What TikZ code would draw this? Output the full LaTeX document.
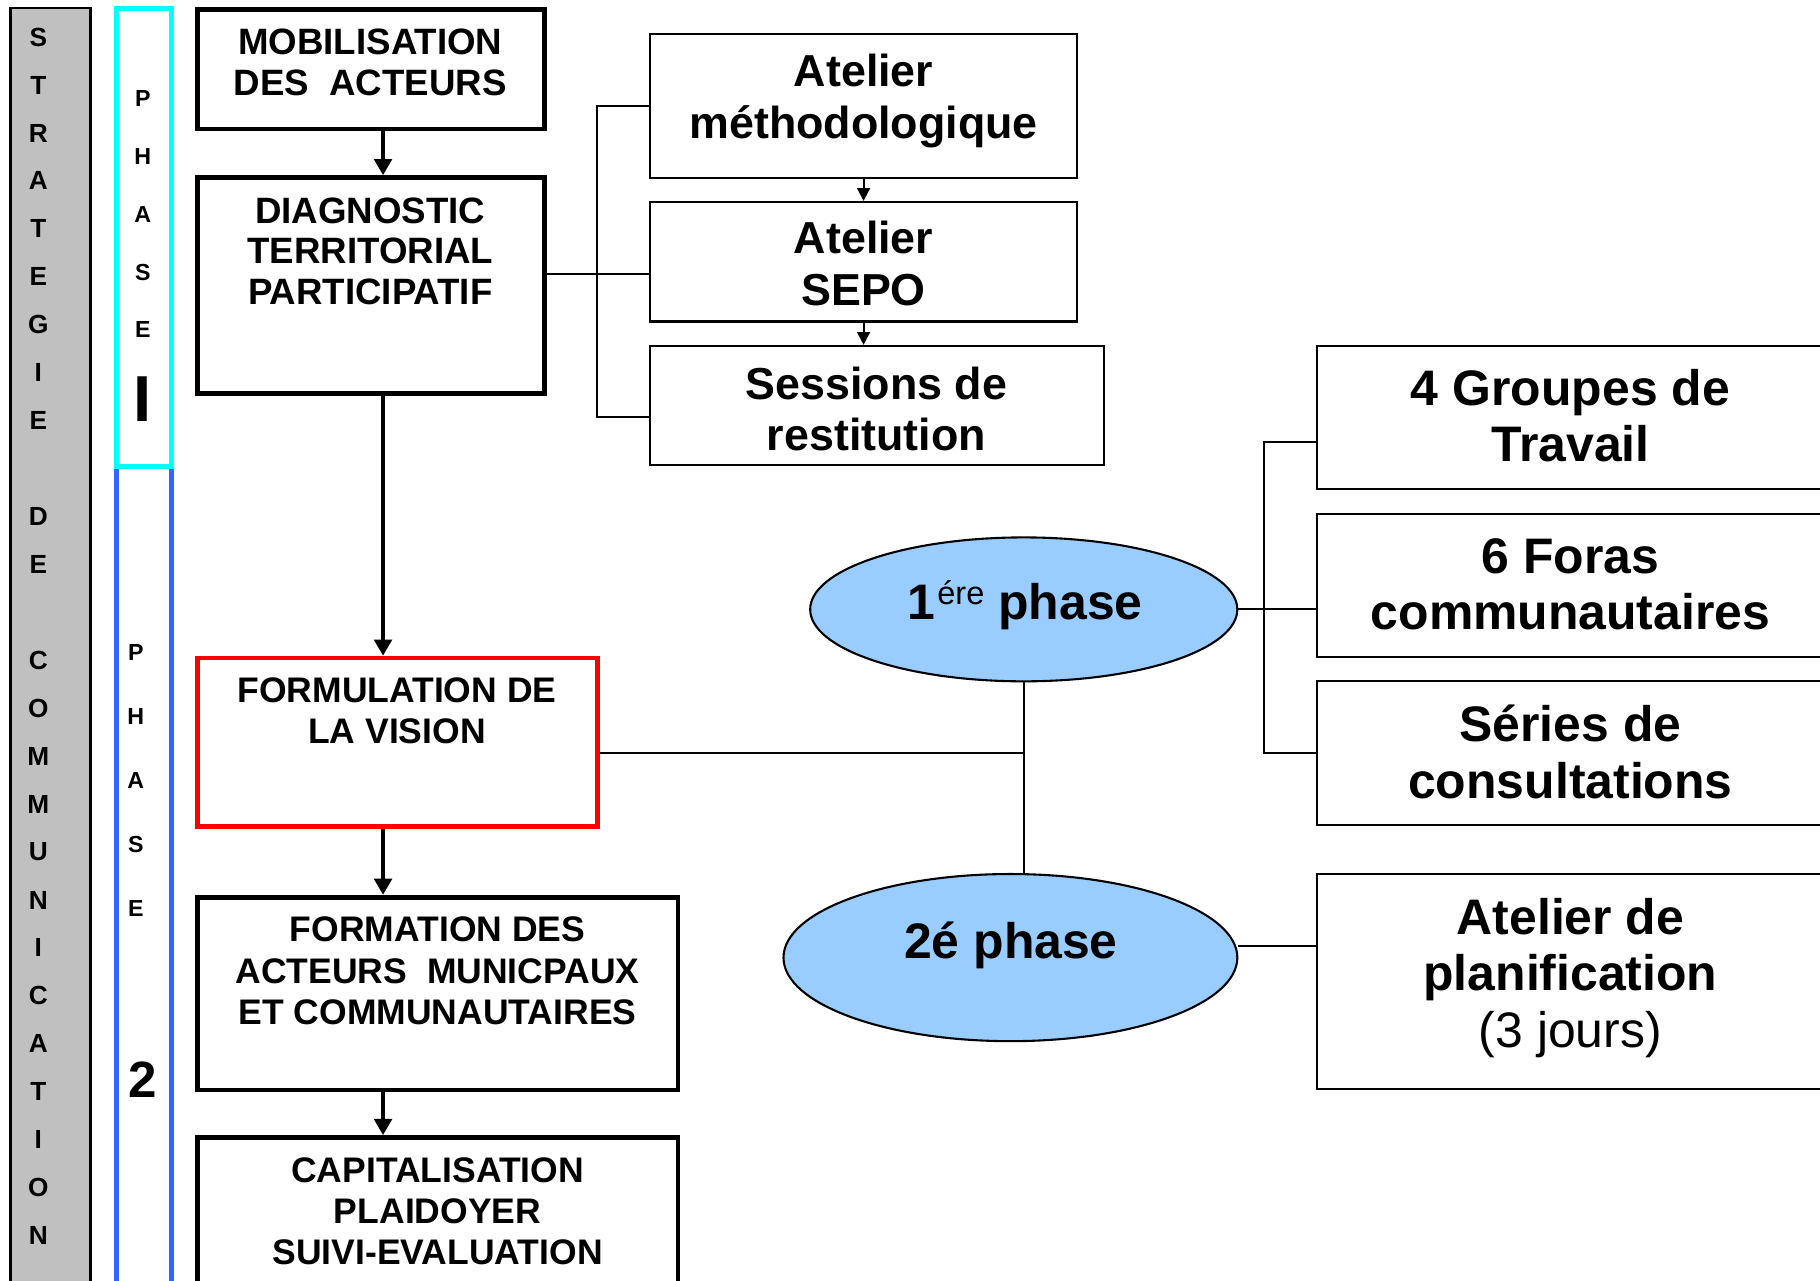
\documentclass[tikz,border=0pt]{standalone}
\usepackage{fontspec}
\setmainfont{Liberation Sans}
\usetikzlibrary{arrows.meta,shapes.geometric,calc}
\definecolor{barGray}{HTML}{C0C0C0}
\definecolor{phCyan}{HTML}{00FFFF}
\definecolor{phBlue}{HTML}{3366FF}
\definecolor{ellBlue}{HTML}{99CCFF}
\begin{document}
\begin{tikzpicture}[x=0.5pt,y=-0.5pt,
  thickbox/.style={draw, line width=2pt, inner sep=0pt},
  thinbox/.style={draw, line width=0.9pt, inner sep=0pt},
  ell/.style={ellipse, draw, line width=0.9pt, fill=ellBlue, inner sep=0pt},
  topcaps/.style={font=\bfseries\fontsize{15.8}{17.6}\selectfont, align=center, inner sep=0pt},
  lowcaps/.style={font=\bfseries\fontsize{15.3}{17.75}\selectfont, align=center, inner sep=0pt},
  midtext/.style={font=\bfseries\fontsize{19.3}{22}\selectfont, align=center, inner sep=0pt},
  bigtext/.style={font=\bfseries\fontsize{21.5}{24.4}\selectfont, align=center, inner sep=0pt},
  grayletter/.style={font=\bfseries\fontsize{11.3}{11.3}\selectfont, inner sep=0pt},
  phaseletter/.style={font=\bfseries\fontsize{10}{10}\selectfont, inner sep=0pt},
  mainarrow/.style={line width=2pt, -{Triangle[length=7pt,width=7.5pt]}},
  smallarrow/.style={line width=0.9pt, -{Triangle[length=5.5pt,width=5.5pt]}},
  conn/.style={line width=0.85pt}
]
\useasboundingbox (0,0) rectangle (1568,1103);
\fill[white] (0,0) rectangle (1568,1103);
\clip (0,0) rectangle (1568,1103);

% side bars
\node[draw=black, line width=1pt, fill=barGray, minimum width=34.5pt, minimum height=551.5pt, inner sep=0pt] (strat) at (43.5,558.5) {};
\node[draw=phBlue, line width=2.1pt, minimum width=24pt, minimum height=354pt, inner sep=0pt] (ph2) at (124,756) {};
\node[draw=phCyan, line width=2.1pt, minimum width=24pt, minimum height=197.5pt, inner sep=0pt] (ph1) at (124,204.5) {};

\foreach \k/\ch in {0/S,1/T,2/R,3/A,4/T,5/E,6/G,7/I,8/E,10/D,11/E,13/C,14/O,15/M,16/M,17/U,18/N,19/I,20/C,21/A,22/T,23/I,24/O,25/N}
  \node[grayletter] (sl\k) at (33,{32+41.3*\k}) {\ch};
\foreach \k/\ch in {0/P,1/H,2/A,3/S,4/E}
  \node[phaseletter] (pa\k) at (123,{85+49.8*\k}) {\ch};
\node[font=\bfseries\fontsize{28}{28}\selectfont, inner sep=0pt] (pnum1) at (123,344) {I};
\foreach \k/\ch in {0/P,1/H,2/A,3/S,4/E}
  \node[phaseletter] (pb\k) at (117,{562+55.2*\k}) {\ch};
\node[font=\bfseries\fontsize{22}{22}\selectfont, inner sep=0pt] (pnum2) at (123,930) {2};

% boxes
\node[thickbox, minimum width=149.5pt, minimum height=51.5pt] (mob) at (319.5,59.5) {};
\node[thickbox, minimum width=149.5pt, minimum height=93pt] (diag) at (319.5,246) {};
\node[thinbox, minimum width=184pt, minimum height=62pt] (ameth) at (744,91) {};
\node[thinbox, minimum width=184pt, minimum height=51.5pt] (asepo) at (744,225.5) {};
\node[thinbox, minimum width=195.5pt, minimum height=51.5pt] (sess) at (755.5,349.5) {};
\node[draw=red, line width=2pt, minimum width=172.5pt, minimum height=72.5pt, inner sep=0pt] (vis) at (342.5,639.5) {};
\node[thickbox, minimum width=207pt, minimum height=83pt] (formation) at (377,856) {};
\node[thickbox, minimum width=207pt, minimum height=65pt] (capi) at (377,1045) {};
\node[thinbox, minimum width=222.5pt, minimum height=61.5pt] (grp) at (1357.5,359.5) {};
\node[thinbox, minimum width=222.5pt, minimum height=61.5pt] (foras) at (1357.5,504.5) {};
\node[thinbox, minimum width=222.5pt, minimum height=62pt] (series) at (1357.5,649) {};
\node[thinbox, minimum width=222.5pt, minimum height=92.5pt] (plan) at (1357.5,845.5) {};

% connectors
\coordinate (ax) at (330,0);
\draw[mainarrow] (mob.south -| ax) -- (diag.north -| ax);
\draw[mainarrow] (diag.south -| ax) -- (vis.north -| ax);
\draw[mainarrow] (vis.south -| ax) -- (formation.north -| ax);
\draw[mainarrow] (formation.south -| ax) -- (capi.north -| ax);
\draw[smallarrow] (ameth.south) -- (asepo.north);
\draw[smallarrow] (asepo.south) -- (asepo.south |- sess.north);
\coordinate (bl) at (514,0);
\coordinate (sessTick) at (0,359);
\coordinate (diagTick) at (0,236);
\draw[conn] (ameth.west) -- (ameth.west -| bl) -- (sessTick -| bl) -- (sess.west |- sessTick);
\draw[conn] (diag.east |- diagTick) -- (asepo.west |- diagTick);

\node[ell, minimum width=184pt, minimum height=62pt] (e1) at (882,525) {};
\node[ell, minimum width=195.5pt, minimum height=72pt] (e2) at (870.5,825) {};

\coordinate (visTick) at (0,649);
\draw[conn] (vis.east |- visTick) -- (e1.south |- visTick);
\draw[conn] (e1.south) -- (e1.south |- e2.north);
\coordinate (br) at (1089,0);
\coordinate (grpTick) at (0,381);
\draw[conn] (grp.west |- grpTick) -- (br |- grpTick) -- (br |- series.west) -- (series.west);
\draw[conn] (e1.east) -- (e1.east -| foras.west);
\coordinate (e2Tick) at (0,815);
\draw[conn] (e2.east |- e2Tick) -- (plan.west |- e2Tick);

% texts
\node[topcaps] (mobT) at (319,53.5) {MOBILISATION\\DES\ \ ACTEURS};
\node[topcaps] (diagT) at (319,216.5) {DIAGNOSTIC\\TERRITORIAL\\PARTICIPATIF};
\node[midtext] (amethT) at (744,87) {Atelier\\méthodologique};
\node[midtext] (asepoT) at (744,227) {Atelier\\SEPO};
\node[midtext] (sessT) at (755,352) {Sessions de\\restitution};
\node[lowcaps] (visT) at (342,612.5) {FORMULATION DE\\LA VISION};
\node[lowcaps] (formationT) at (377,836.5) {FORMATION DES\\ACTEURS\ \ MUNICPAUX\\ET COMMUNAUTAIRES};
\node[lowcaps] (capiT) at (377,1043.5) {CAPITALISATION\\PLAIDOYER\\SUIVI-EVALUATION};
\node[bigtext] (e1T) at (883,521.5) {1\kern1pt\raisebox{6.5pt}{\fontsize{14}{14}\selectfont\mdseries ére} phase};
\node[bigtext] (e2T) at (871,814.5) {2é phase};
\node[bigtext] (grpT) at (1353,358) {4 Groupes de\\Travail};
\node[bigtext] (forasT) at (1353,503.5) {6 Foras\\communautaires};
\node[bigtext] (seriesT) at (1353,648) {Séries de\\consultations};
\node[bigtext] (planT) at (1353,842.5) {Atelier de\\planification\\{\mdseries (3 jours)}};
\end{tikzpicture}
\end{document}
